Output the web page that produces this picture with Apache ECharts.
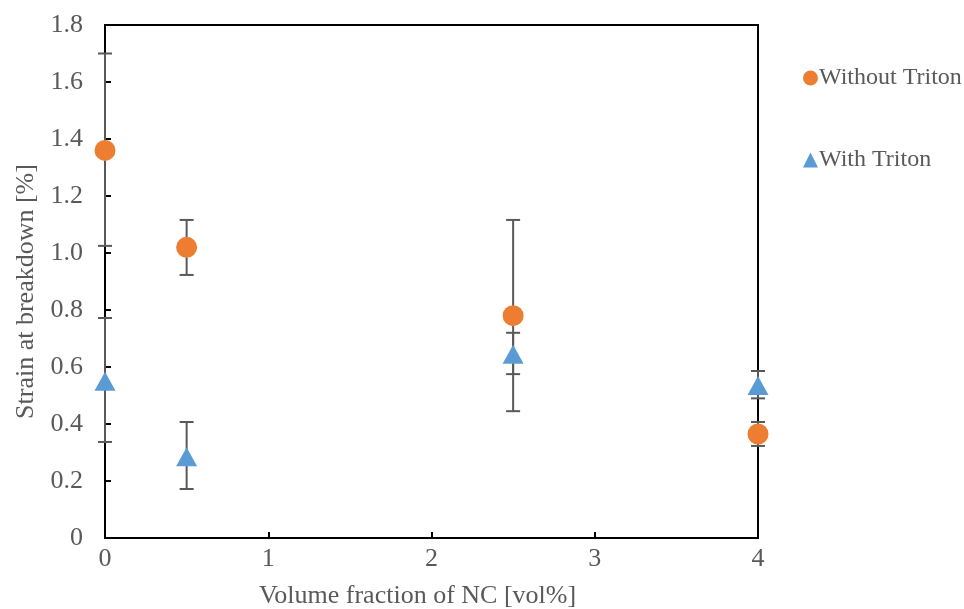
<!DOCTYPE html>
<html>
<head>
<meta charset="utf-8">
<script src="https://cdn.jsdelivr.net/npm/echarts@6/dist/echarts.min.js"></script>
<style>
html,body{margin:0;padding:0;background:#fff;}
#chart{width:964px;height:609px;}
</style>
</head>
<body>
<div id="chart"></div>
<script>
const xValues = [0, 0.5, 2.5, 4];
const seriesNames = ['Without Triton', 'With Triton'];
const withoutTriton = [1.36, 1.02, 0.78, 0.365];
const withoutLow = [1.025, 0.923, 0.445, 0.323];
const withoutHigh = [1.70, 1.116, 1.116, 0.407];
const withTriton = [0.55, 0.285, 0.645, 0.535];
const withLow = [0.337, 0.172, 0.575, 0.49];
const withHigh = [0.772, 0.407, 0.72, 0.586];
const xAxisName = 'Volume fraction of NC [vol%]';
const yAxisName = 'Strain at breakdown [%]';

const FONT = "'Liberation Serif', 'Times New Roman', serif";
const TXT = '#595959';

function pts(ys) { return xValues.map((x, i) => [x, ys[i]]); }
function errs(lo, hi) { return xValues.map((x, i) => [x, lo[i], hi[i]]); }

function errRender(params, api) {
  const x = api.value(0), lo = api.value(1), hi = api.value(2);
  const a = api.coord([x, lo]), b = api.coord([x, hi]);
  const hw = 7;
  const st = { stroke: '#595959', lineWidth: 2 };
  return {
    type: 'group',
    children: [
      { type: 'line', shape: { x1: a[0], y1: a[1], x2: b[0], y2: b[1] }, style: st },
      { type: 'line', shape: { x1: a[0] - hw, y1: a[1], x2: a[0] + hw, y2: a[1] }, style: st },
      { type: 'line', shape: { x1: b[0] - hw, y1: b[1], x2: b[0] + hw, y2: b[1] }, style: st }
    ]
  };
}

const chart = echarts.init(document.getElementById('chart'));
chart.setOption({
  animation: false,
  backgroundColor: '#fff',
  textStyle: { fontFamily: FONT },
  grid: { left: 105, right: 206, top: 25, bottom: 71, outerBoundsMode: 'none', containLabel: false,
    show: true, borderColor: '#000', borderWidth: 2, backgroundColor: 'transparent' },
  legend: {
    orient: 'vertical', left: 798, top: 61, itemGap: 58,
    itemWidth: 15, itemHeight: 15,
    textStyle: { fontFamily: FONT, fontSize: 24, color: TXT, padding: [0, 0, 0, -4] },
    data: [
      { name: seriesNames[0], icon: 'circle' },
      { name: seriesNames[1], icon: 'triangle' }
    ]
  },
  xAxis: {
    type: 'value', min: 0, max: 4, interval: 1,
    name: xAxisName, nameLocation: 'middle', nameGap: 45,
    nameTextStyle: { fontFamily: FONT, fontSize: 26, color: TXT, padding: [0, 28, 0, 0] },
    axisLine: { show: true, onZero: false, lineStyle: { color: '#000', width: 2 } },
    axisTick: { show: true, inside: true, length: 6, lineStyle: { color: '#000', width: 2 } },
    axisLabel: { fontFamily: FONT, fontSize: 26, color: TXT, margin: 8 },
    splitLine: { show: false }
  },
  yAxis: {
    type: 'value', min: 0, max: 1.8, interval: 0.2,
    name: yAxisName, nameLocation: 'middle', nameGap: 66, nameRotate: 90,
    nameTextStyle: { fontFamily: FONT, fontSize: 26, color: TXT, padding: [0, 20, 0, 0] },
    axisLine: { show: true, lineStyle: { color: '#000', width: 2 } },
    axisTick: { show: true, inside: true, length: 6, lineStyle: { color: '#000', width: 2 } },
    axisLabel: { fontFamily: FONT, fontSize: 26, color: TXT, margin: 22,
      formatter: v => (Math.abs(v) < 1e-9 ? '0' : v.toFixed(1)) },
    splitLine: { show: false }
  },
  series: [
    { name: 'errWithout', type: 'custom', renderItem: errRender, data: errs(withoutLow, withoutHigh), z: 1, silent: true },
    { name: 'errWith', type: 'custom', renderItem: errRender, data: errs(withLow, withHigh), z: 1, silent: true },
    { name: seriesNames[0], type: 'scatter', symbol: 'circle', symbolSize: 21, data: pts(withoutTriton),
      itemStyle: { color: '#ED7D31', opacity: 1 }, z: 3 },
    { name: seriesNames[1], type: 'scatter', symbol: 'triangle', symbolSize: [21, 19], data: pts(withTriton),
      itemStyle: { color: '#5B9BD5', opacity: 1 }, z: 3 }
  ]
});
</script>
</body>
</html>
